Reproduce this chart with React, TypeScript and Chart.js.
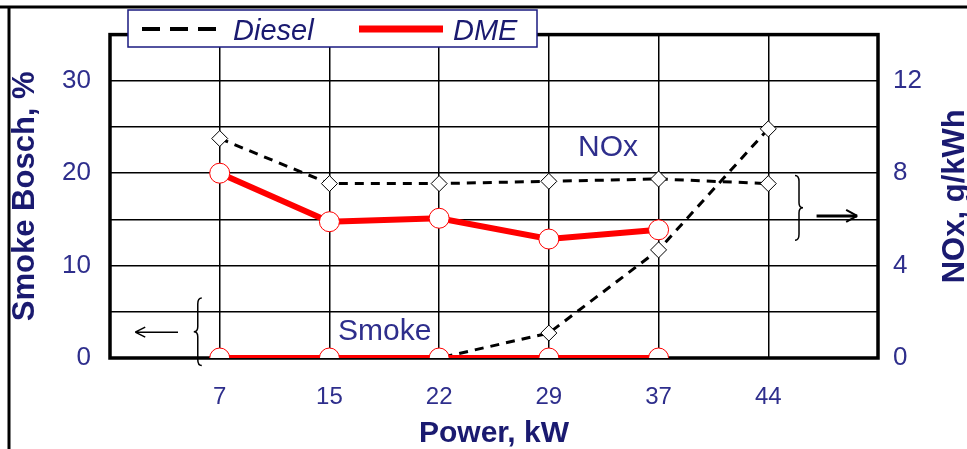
import React, { useEffect, useRef } from 'react';
import { Chart, registerables } from 'chart.js';
Chart.register(...registerables);

const powerLabels = ['7', '15', '22', '29', '37', '44'];
const dieselNOx = [9.5, 7.55, 7.55, 7.65, 7.75, 7.55];
const dmeNOx = [8.0, 5.9, 6.05, 5.15, 5.55];
const dieselSmoke = [0, 0, 0, 2.7, 11.7, 24.8];
const dmeSmoke = [0, 0, 0, 0, 0];
const smokeTicks = [0, 5, 10, 15, 20, 25, 30, 35];
const smokeLabelTicks = [0, 10, 20, 30];
const noxTicks = [0, 4, 8, 12];

const FONT = "'Liberation Sans', Arial, sans-serif";
const TICK_COLOR = '#2e2e8c';
const TITLE_COLOR = '#1a1a70';

const toXY = (arr: number[]) => arr.map((v, i) => ({ x: i + 1, y: v }));

function drawBrace(ctx: CanvasRenderingContext2D, x: number, y1: number, y2: number, dir: number) {
  const ym = (y1 + y2) / 2;
  ctx.beginPath();
  ctx.moveTo(x - dir * 4, y1);
  ctx.quadraticCurveTo(x, y1, x, y1 + 6);
  ctx.lineTo(x, ym - 5);
  ctx.quadraticCurveTo(x, ym, x + dir * 4, ym);
  ctx.quadraticCurveTo(x, ym, x, ym + 5);
  ctx.lineTo(x, y2 - 6);
  ctx.quadraticCurveTo(x, y2, x - dir * 4, y2);
  ctx.stroke();
}

const decorPlugin = {
  id: 'decor',
  beforeDatasetsDraw(chart: any) {
    const { ctx, chartArea: a, scales } = chart;
    const xs = scales.x, yl = scales.yL, yr = scales.yR;
    ctx.save();
    ctx.strokeStyle = '#000';
    ctx.lineWidth = 3.5;
    ctx.strokeRect(a.left, a.top, a.right - a.left, a.bottom - a.top);

    // left brace + arrow (Smoke -> left axis)
    ctx.lineWidth = 1.5;
    drawBrace(ctx, xs.getPixelForValue(0.8), yl.getPixelForValue(6.5), yl.getPixelForValue(-0.8), -1);
    const ay = yl.getPixelForValue(2.8);
    const ax1 = xs.getPixelForValue(0.23), ax2 = xs.getPixelForValue(0.62);
    ctx.beginPath();
    ctx.moveTo(ax1, ay); ctx.lineTo(ax2, ay);
    ctx.moveTo(ax1, ay); ctx.lineTo(ax1 + 10, ay - 5);
    ctx.moveTo(ax1, ay); ctx.lineTo(ax1 + 10, ay + 5);
    ctx.stroke();

    // right brace + arrow (NOx -> right axis)
    drawBrace(ctx, xs.getPixelForValue(6.28), yr.getPixelForValue(7.9), yr.getPixelForValue(5.1), 1);
    const by = yr.getPixelForValue(6.15);
    const bx1 = xs.getPixelForValue(6.44), bx2 = xs.getPixelForValue(6.81);
    ctx.lineWidth = 3;
    ctx.beginPath();
    ctx.moveTo(bx1, by); ctx.lineTo(bx2, by);
    ctx.stroke();
    ctx.lineWidth = 2;
    ctx.beginPath();
    ctx.moveTo(bx2, by); ctx.lineTo(bx2 - 11, by - 6);
    ctx.moveTo(bx2, by); ctx.lineTo(bx2 - 11, by + 6);
    ctx.stroke();

    // annotation texts
    ctx.fillStyle = TICK_COLOR;
    ctx.font = `30px ${FONT}`;
    ctx.textAlign = 'left';
    ctx.textBaseline = 'alphabetic';
    ctx.fillText('NOx', 578, 156);
    ctx.fillText('Smoke', 338, 340);
    ctx.restore();
  },
  afterDraw(chart: any) {
    const { ctx, chartArea: a } = chart;
    ctx.save();
    // outer frame
    ctx.strokeStyle = '#000';
    ctx.lineWidth = 3;
    ctx.beginPath();
    ctx.moveTo(0, 7); ctx.lineTo(967, 7);
    ctx.moveTo(9, 7); ctx.lineTo(9, 449);
    ctx.stroke();

    // legend box
    ctx.fillStyle = '#fff';
    ctx.fillRect(128, 10, 409, 37);
    ctx.strokeStyle = '#1a1a80';
    ctx.lineWidth = 1.5;
    ctx.strokeRect(128, 10, 409, 37);
    ctx.strokeStyle = '#000';
    ctx.lineWidth = 4;
    ctx.setLineDash([18, 10]);
    ctx.beginPath(); ctx.moveTo(142, 29); ctx.lineTo(222, 29); ctx.stroke();
    ctx.setLineDash([]);
    ctx.strokeStyle = '#ff0000';
    ctx.lineWidth = 7;
    ctx.beginPath(); ctx.moveTo(359, 29); ctx.lineTo(443, 29); ctx.stroke();
    ctx.fillStyle = TITLE_COLOR;
    ctx.font = `italic 29px ${FONT}`;
    ctx.textAlign = 'left';
    ctx.textBaseline = 'alphabetic';
    ctx.fillText('Diesel', 233, 40);
    ctx.fillText('DME', 453, 40);

    // right axis title (reads bottom to top)
    ctx.translate(955, (a.top + a.bottom) / 2);
    ctx.rotate(-Math.PI / 2);
    ctx.font = `bold 31px ${FONT}`;
    ctx.textAlign = 'center';
    ctx.textBaseline = 'middle';
    ctx.fillStyle = TITLE_COLOR;
    ctx.fillText('NOx, g/kWh', 0, 0);
    ctx.restore();
  },
};

export default function App() {
  const ref = useRef<HTMLCanvasElement>(null);
  useEffect(() => {
    if (!ref.current) return;
    const chart = new Chart(ref.current, {
      type: 'line',
      data: {
        datasets: [
          {
            label: 'DME NOx', data: toXY(dmeNOx), yAxisID: 'yR', order: 0,
            borderColor: '#ff0000', borderWidth: 6, pointStyle: 'circle', pointRadius: 10,
            pointBackgroundColor: '#fff', pointBorderColor: '#ff0000', pointBorderWidth: 1,
          },
          {
            label: 'DME Smoke', data: toXY(dmeSmoke), yAxisID: 'yL', order: 0,
            borderColor: '#ff0000', borderWidth: 6, pointStyle: 'circle', pointRadius: 10,
            pointBackgroundColor: '#fff', pointBorderColor: '#ff0000', pointBorderWidth: 1,
          },
          {
            label: 'Diesel NOx', data: toXY(dieselNOx), yAxisID: 'yR', order: 1,
            borderColor: '#000', borderWidth: 3, borderDash: [9, 7], pointStyle: 'rectRot', pointRadius: 8,
            pointBackgroundColor: '#fff', pointBorderColor: '#000', pointBorderWidth: 1,
          },
          {
            label: 'Diesel Smoke', data: toXY(dieselSmoke), yAxisID: 'yL', order: 1,
            borderColor: '#000', borderWidth: 3, borderDash: [9, 7], pointStyle: 'rectRot', pointRadius: 8,
            pointBackgroundColor: '#fff', pointBorderColor: '#000', pointBorderWidth: 1,
          },
        ],
      },
      options: {
        animation: false,
        responsive: false,
        devicePixelRatio: 1,
        layout: { padding: { top: 29, left: 0, right: 0, bottom: 0 } },
        plugins: { legend: { display: false }, tooltip: { enabled: false } },
        scales: {
          x: {
            type: 'linear', min: 0, max: 7, position: 'bottom',
            afterBuildTicks: (s: any) => { s.ticks = [0, 1, 2, 3, 4, 5, 6, 7].map((v) => ({ value: v })); },
            afterFit: (s: any) => { s.height = 91; },
            ticks: {
              callback: (v: any) => powerLabels[v - 1] ?? '',
              font: { family: FONT, size: 24 }, color: TICK_COLOR, padding: 25,
              maxRotation: 0, autoSkip: false,
            },
            grid: { color: '#000', lineWidth: 1.5, drawTicks: false },
            border: { display: false },
            title: {
              display: true, text: 'Power, kW', color: TITLE_COLOR,
              font: { family: FONT, size: 30, weight: 'bold', lineHeight: 1 },
              padding: { top: 0, bottom: 0 },
            },
          },
          yL: {
            type: 'linear', min: 0, max: 35, position: 'left',
            afterBuildTicks: (s: any) => { s.ticks = smokeTicks.map((v) => ({ value: v })); },
            afterFit: (s: any) => { s.width = 110; },
            ticks: {
              callback: (v: any) => (smokeLabelTicks.includes(v) ? String(v) : ''),
              font: { family: FONT, size: 26 }, color: TICK_COLOR, padding: 19,
            },
            grid: { color: '#000', lineWidth: 1.5, drawTicks: false },
            border: { display: false },
            title: {
              display: true, text: 'Smoke Bosch, %', color: TITLE_COLOR,
              font: { family: FONT, size: 31, weight: 'bold', lineHeight: 1 },
              padding: { top: 10, bottom: 0 },
            },
          },
          yR: {
            type: 'linear', min: 0, max: 14, position: 'right',
            afterBuildTicks: (s: any) => { s.ticks = noxTicks.map((v) => ({ value: v })); },
            afterFit: (s: any) => { s.width = 89; },
            ticks: {
              callback: (v: any) => String(v),
              font: { family: FONT, size: 26 }, color: TICK_COLOR, padding: 15,
            },
            grid: { display: false, drawTicks: false },
            border: { display: false },
          },
        },
      } as any,
      plugins: [decorPlugin],
    });
    return () => chart.destroy();
  }, []);
  return (
    <div style={{ position: 'absolute', left: 0, top: 0, width: 967, height: 449, background: '#fff' }}>
      <canvas ref={ref} width={967} height={449} style={{ display: 'block' }} />
    </div>
  );
}
